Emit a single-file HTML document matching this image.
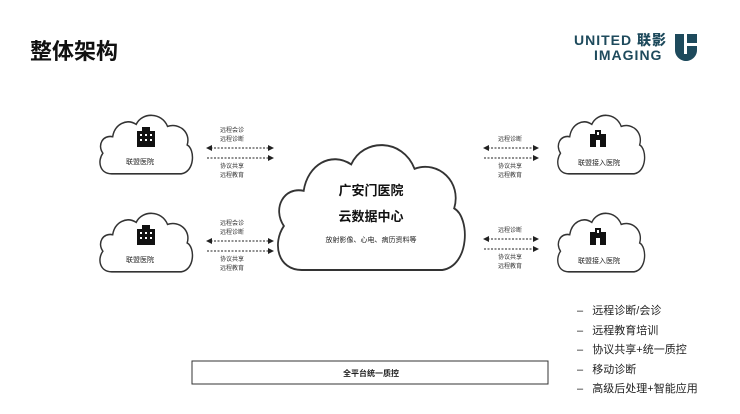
<!DOCTYPE html>
<html><head><meta charset="utf-8"><style>
body{margin:0;width:740px;height:414px;background:#fff;position:relative;overflow:hidden;font-family:"Liberation Sans","Noto Sans CJK SC",sans-serif;color:#222}
.t{position:absolute;white-space:nowrap}
.s{font-size:6px;color:#333;line-height:9px}
</style></head><body>
<div class="t" style="left:30px;top:34px;font-size:22px;font-weight:bold;color:#111">整体架构</div>
<div class="t" style="left:574px;top:33px;font-size:14px;font-weight:900;color:#1e4a5c;line-height:15px;letter-spacing:1px">UNITED 联影<br><span style="margin-left:20px">IMAGING</span></div>
<svg style="position:absolute;left:675px;top:34px" width="22" height="27" viewBox="0 0 22 27"><path d="M0,0H22V16C22,23 16,27 11,27C6,27 0,23 0,16Z" fill="#1e4a5c"/><rect x="9" y="0" width="3" height="20" fill="#fff"/><rect x="12" y="9" width="10" height="3" fill="#fff"/></svg>
<svg style="position:absolute;left:0;top:0" width="740" height="414">
<defs>
<path id="c" d="M15,60 C3,60 0,48 6,40 C0,32 6,22 16,24 C18,12 30,6 40,12 C46,0 66,0 72,14 C84,10 96,20 92,32 C100,36 100,58 86,60 Z"/>
<marker id="a" markerWidth="6" markerHeight="6" refX="5" refY="3" orient="auto-start-reverse"><path d="M0,0L6,3L0,6Z" fill="#222"/></marker>
</defs>
<g fill="#fff" stroke="#333" stroke-width="1.5">
<use href="#c" transform="translate(97,112) scale(0.98,1.03)"/>
<use href="#c" transform="translate(97,210) scale(0.98,1.03)"/>
<use href="#c" transform="translate(555,112) scale(0.92,1.03)"/>
<use href="#c" transform="translate(555,210) scale(0.92,1.03)"/>
<use href="#c" transform="translate(272,138) scale(1.98,2.2)" style="stroke-width:0.9px"/>
</g>
<g stroke="#222" stroke-width="1" stroke-dasharray="2,1.5" fill="none">
<line x1="207" y1="148" x2="273" y2="148" marker-start="url(#a)" marker-end="url(#a)"/>
<line x1="207" y1="158" x2="273" y2="158" marker-end="url(#a)"/>
<line x1="207" y1="241" x2="273" y2="241" marker-start="url(#a)" marker-end="url(#a)"/>
<line x1="207" y1="251" x2="273" y2="251" marker-end="url(#a)"/>
<line x1="484" y1="148" x2="538" y2="148" marker-start="url(#a)" marker-end="url(#a)"/>
<line x1="484" y1="158" x2="538" y2="158" marker-end="url(#a)"/>
<line x1="484" y1="239" x2="538" y2="239" marker-start="url(#a)" marker-end="url(#a)"/>
<line x1="484" y1="249" x2="538" y2="249" marker-end="url(#a)"/>
</g>
<g fill="#111">
<rect x="137" y="131" width="18" height="16"/><rect x="142" y="127" width="8" height="5"/>
<rect x="137" y="229" width="18" height="16"/><rect x="142" y="225" width="8" height="5"/>
<rect x="590" y="134" width="16" height="13"/><rect x="595" y="130" width="6" height="6"/>
<rect x="590" y="232" width="16" height="13"/><rect x="595" y="228" width="6" height="6"/>
</g>
<g fill="#fff">
<rect x="140" y="134" width="2" height="2"/><rect x="145" y="134" width="2" height="2"/><rect x="150" y="134" width="2" height="2"/>
<rect x="140" y="139" width="2" height="2"/><rect x="145" y="139" width="2" height="2"/><rect x="150" y="139" width="2" height="2"/>
<rect x="140" y="232" width="2" height="2"/><rect x="145" y="232" width="2" height="2"/><rect x="150" y="232" width="2" height="2"/>
<rect x="140" y="237" width="2" height="2"/><rect x="145" y="237" width="2" height="2"/><rect x="150" y="237" width="2" height="2"/>
<rect x="597" y="132" width="2" height="3"/><rect x="596" y="140" width="4" height="7"/>
<rect x="597" y="230" width="2" height="3"/><rect x="596" y="238" width="4" height="7"/>
</g>
<rect x="192" y="361" width="356" height="23" fill="none" stroke="#333" stroke-width="1"/>
</svg>
<div class="t" style="left:126px;top:157px;font-size:7px">联盟医院</div>
<div class="t" style="left:126px;top:255px;font-size:7px">联盟医院</div>
<div class="t" style="left:578px;top:158px;font-size:7px">联盟接入医院</div>
<div class="t" style="left:578px;top:256px;font-size:7px">联盟接入医院</div>
<div class="t s" style="left:220px;top:127px">远程会诊<br>远程诊断</div>
<div class="t s" style="left:220px;top:163px">协议共享<br>远程教育</div>
<div class="t s" style="left:220px;top:220px">远程会诊<br>远程诊断</div>
<div class="t s" style="left:220px;top:256px">协议共享<br>远程教育</div>
<div class="t s" style="left:498px;top:136px">远程诊断</div>
<div class="t s" style="left:498px;top:163px">协议共享<br>远程教育</div>
<div class="t s" style="left:498px;top:227px">远程诊断</div>
<div class="t s" style="left:498px;top:254px">协议共享<br>远程教育</div>
<div class="t" style="left:0;width:742px;text-align:center;top:180px;font-size:13px;font-weight:bold;color:#111">广安门医院</div>
<div class="t" style="left:0;width:742px;text-align:center;top:206px;font-size:13px;font-weight:bold;color:#111">云数据中心</div>
<div class="t" style="left:0;width:742px;text-align:center;top:235px;font-size:7px">放射影像、心电、病历资料等</div>
<div class="t" style="left:192px;width:358px;text-align:center;top:368px;font-size:8px;font-weight:bold">全平台统一质控</div>
<div class="t" style="left:577px;top:302px;font-size:11px;line-height:19.5px;color:#222">–&nbsp;&nbsp;&nbsp;远程诊断/会诊<br>–&nbsp;&nbsp;&nbsp;远程教育培训<br>–&nbsp;&nbsp;&nbsp;协议共享+统一质控<br>–&nbsp;&nbsp;&nbsp;移动诊断<br>–&nbsp;&nbsp;&nbsp;高级后处理+智能应用</div>
</body></html>
